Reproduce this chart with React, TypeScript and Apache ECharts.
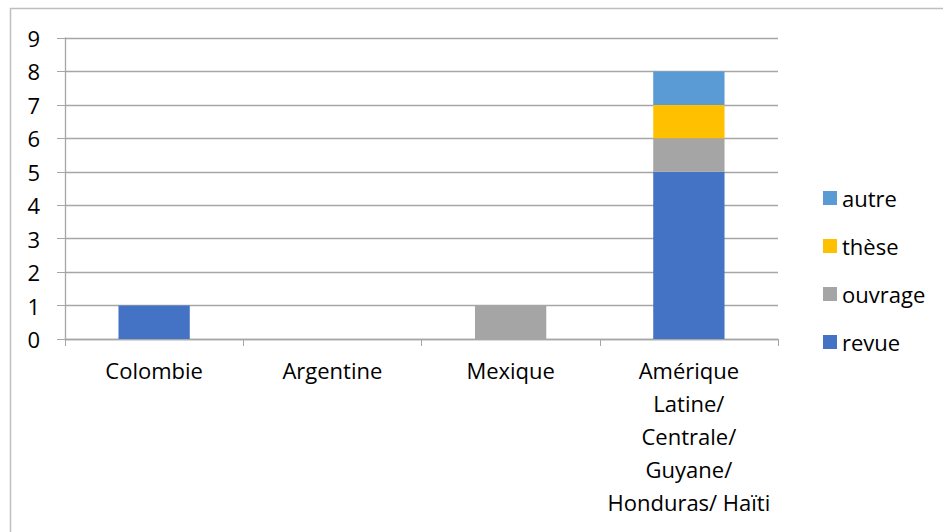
import React, { useEffect, useRef } from "react";
import * as echarts from "echarts";

const categories = [
  "Colombie",
  "Argentine",
  "Mexique",
  "Amérique\nLatine/\nCentrale/\nGuyane/\nHonduras/ Haïti",
];
const revue = [1, 0, 0, 5];
const ouvrage = [0, 0, 1, 1];
const these = [0, 0, 0, 1];
const autre = [0, 0, 0, 1];
const legendOrder = ["autre", "thèse", "ouvrage", "revue"];
const yTicks = { min: 0, max: 9, interval: 1 };

const FONT = "Open Sans";
const FS = 22;

export default function App() {
  const ref = useRef<HTMLDivElement>(null);

  useEffect(() => {
    if (!ref.current) return;
    const chart = echarts.init(ref.current, null, { renderer: "svg" });
    const mk = (name: string, data: number[], color: string) => ({
      name,
      type: "bar",
      stack: "total",
      data: data.map((v) => (v === 0 ? null : v)),
      barWidth: "40%",
      itemStyle: { color },
    });
    chart.setOption({
      animation: false,
      textStyle: { fontFamily: FONT, color: "#000" },
      graphic: [
        {
          type: "rect",
          shape: { x: 10.5, y: 8.5, width: 960, height: 560 },
          style: { fill: "none", stroke: "#bfbfbf", lineWidth: 1.5 },
          silent: true,
        },
      ],
      grid: { left: 65, right: 165, top: 38, bottom: 193, containLabel: false },
      legend: {
        orient: "vertical",
        left: 818,
        top: 181,
        data: legendOrder,
        itemWidth: 14,
        itemHeight: 14,
        itemGap: 24,
        icon: "rect",
        textStyle: { fontFamily: FONT, fontSize: FS, color: "#000", lineHeight: 24 },
      },
      xAxis: {
        type: "category",
        data: categories,
        axisLine: { lineStyle: { color: "#a6a6a6", width: 1.3 } },
        axisTick: { show: true, length: 7, lineStyle: { color: "#a6a6a6" } },
        axisLabel: {
          fontFamily: FONT,
          fontSize: FS,
          color: "#000",
          lineHeight: 33,
          margin: 14,
          interval: 0,
          align: "center",
        },
      },
      yAxis: {
        type: "value",
        min: yTicks.min,
        max: yTicks.max,
        interval: yTicks.interval,
        axisLine: { show: true, lineStyle: { color: "#a6a6a6", width: 1.3 } },
        axisTick: { show: true, length: 8, lineStyle: { color: "#a6a6a6" } },
        splitLine: { lineStyle: { color: "#a6a6a6", width: 1.3 } },
        axisLabel: { fontFamily: FONT, fontSize: FS, color: "#000", margin: 25 },
      },
      series: [
        mk("revue", revue, "#4472C4"),
        mk("ouvrage", ouvrage, "#A5A5A5"),
        mk("thèse", these, "#FFC000"),
        mk("autre", autre, "#5B9BD5"),
      ],
    });
    return () => chart.dispose();
  }, []);

  return <div ref={ref} style={{ width: 943, height: 532, position: "absolute", left: 0, top: 0 }} />;
}
